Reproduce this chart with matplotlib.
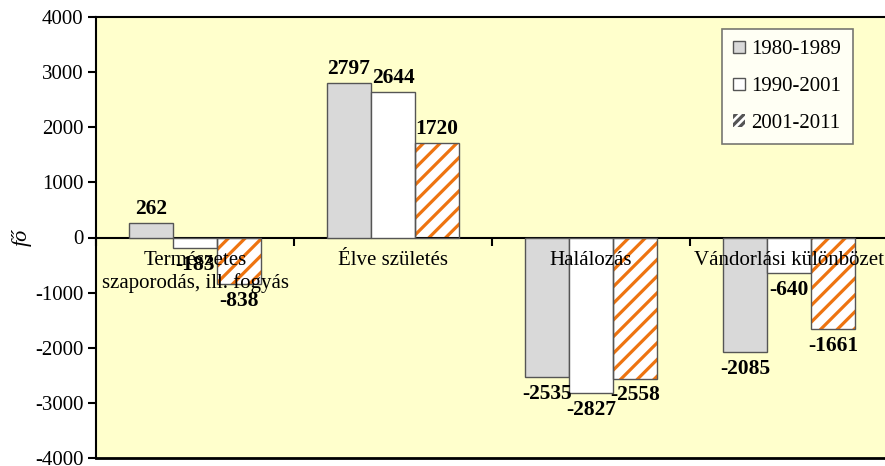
import numpy as np
import matplotlib.pyplot as plt

plt.rcParams['font.family'] = ['Liberation Serif', 'DejaVu Serif']
plt.rcParams['hatch.linewidth'] = 2.3
plt.rcParams['axes.unicode_minus'] = False

# adatok
kategoriak = ["Természetes\nszaporodás, ill. fogyás", "Élve születés", "Halálozás", "Vándorlási különbözet"]
idoszakok = ["1980-1989", "1990-2001", "2001-2011"]
ertek_1980 = [262, 2797, -2535, -2085]
ertek_1990 = [-183, 2644, -2827, -640]
ertek_2001 = [-838, 1720, -2558, -1661]

sorozatok = [ertek_1980, ertek_1990, ertek_2001]
szinek = ['#D9D9D9', 'white', 'white']
narancs = '#EE7410'
el = '#555555'

fig = plt.figure(figsize=(8.85, 4.66), dpi=100)
ax = fig.add_axes([96/885, 1 - 458/466, 792/885, 441/466])
ax.set_facecolor('#FFFFCC')

x = np.arange(len(kategoriak))
w = 0.222
for i, (vals, lab) in enumerate(zip(sorozatok, idoszakok)):
    pos = x + (i - 1) * w
    if i == 2:
        ax.bar(pos, vals, w, color='white', edgecolor=narancs, hatch='//', linewidth=0, zorder=2)
        ax.bar(pos, vals, w, fill=False, edgecolor=el, linewidth=1.0, zorder=3)
        # jelmagyarazat
        ax.bar([0], [0], 0, color='white', edgecolor=narancs, hatch='////', linewidth=0, label=lab)
    else:
        ax.bar(pos, vals, w, color=szinek[i], edgecolor=el, linewidth=1.0, zorder=3, label=lab)
    for p, v in zip(pos, vals):
        if v >= 0:
            ax.annotate(str(v), (p, v), xytext=(0, 3), textcoords='offset points',
                        ha='center', va='bottom', fontsize=15.5, fontweight='bold', zorder=6)
        else:
            ax.annotate(str(v), (p, v), xytext=(0, -5), textcoords='offset points',
                        ha='center', va='top', fontsize=15.5, fontweight='bold', zorder=6)

for i, k in enumerate(kategoriak):
    ax.annotate(k, (i, 0), xytext=(0, -10), textcoords='offset points',
                ha='center', va='top', fontsize=15, linespacing=1.15, zorder=5)

ax.set_ylim(-4000, 4000)
ax.set_xlim(-0.5, 3.5)
ax.set_yticks(np.arange(-4000, 4001, 1000))
ax.tick_params(axis='y', direction='out', length=6, width=1.5, labelsize=15, pad=3)
ax.set_xticks(np.arange(-0.5, 3.6, 1))
ax.set_xticklabels([])
ax.tick_params(axis='x', direction='out', length=6, width=1.5)
ax.spines['bottom'].set_position(('data', 0))
ax.spines['bottom'].set_linewidth(1.5)
ax.spines['left'].set_linewidth(1.5)
ax.spines['top'].set_linewidth(1.5)
ax.spines['right'].set_visible(False)
ax.axhline(-4000, color='black', linewidth=2, clip_on=False, zorder=4)
ax.set_ylabel('fő', fontsize=16, style='italic', labelpad=2)

leg = ax.legend(loc='upper left', bbox_to_anchor=(722/885, 1 - 29/466), bbox_transform=fig.transFigure,
                borderaxespad=0, fontsize=15, frameon=True, fancybox=False,
                handlelength=0.55, handleheight=0.55, handletextpad=0.3, labelspacing=0.85,
                borderpad=0.55, edgecolor='#555555')
leg.get_frame().set_linewidth(1.2)
for h in leg.legend_handles:
    if h.get_label() != '2001-2011':
        h.set_edgecolor(el)

fig.savefig('out.png', dpi=100)
